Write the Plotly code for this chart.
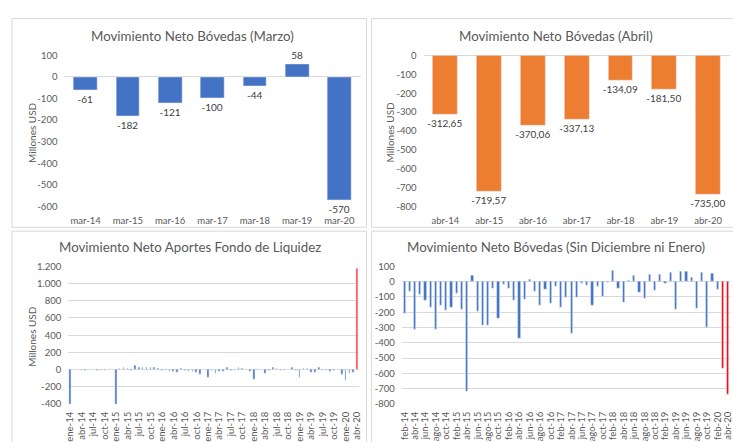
import plotly.graph_objects as go

# ---------------- data ----------------
marzo_cat = ["mar-14", "mar-15", "mar-16", "mar-17", "mar-18", "mar-19", "mar-20"]
marzo_val = [-61, -182, -121, -100, -44, 58, -570]

abril_cat = ["abr-14", "abr-15", "abr-16", "abr-17", "abr-18", "abr-19", "abr-20"]
abril_val = [-312.65, -719.57, -370.06, -337.13, -134.09, -181.50, -735.00]

meses = ["ene", "feb", "mar", "abr", "may", "jun", "jul", "ago", "sep", "oct", "nov", "dic"]
anios = ["14", "15", "16", "17", "18", "19", "20"]

# Fondo de Liquidez: ene-14 .. abr-20 (monthly)
fondo_cat = [f"{m}-{a}" for a in anios for m in meses][:76]
fondo_val = [
    -400, -3, 3, -5, -8, -3, 5, -5, -8, -6, -4, 5,          # 2014
    -400, 8, 25, 15, -5, 50, 25, 22, 25, 30, 25, 8,         # 2015
    -5, -5, -25, -25, -30, 15, -8, -20, -25, -30, -60, 5,   # 2016
    -95, -5, -40, -25, -20, 30, -5, -5, 25, 8, 5, -20,      # 2017
    -110, -15, 5, -50, -5, 30, 8, -5, -5, -3, 25, -10,      # 2018
    -95, 10, 8, -35, -35, 20, -5, -5, -20, -10, 5, -60,     # 2019
    -125, -50, -30, 1180,                                   # 2020
]

# Bóvedas sin diciembre ni enero: feb-14 .. abr-20
sin_cat = [f"{m}-{a}" for a in anios[:-1] for m in meses[1:11]] + ["feb-20", "mar-20", "abr-20"]
sin_val = [
    -205, -61, -313, -80, -123, -171, -309, -158, -190, -165,   # 2014
    -74, -182, -720, 40, -195, -288, -288, -47, -241, -17,      # 2015
    -47, -121, -370, -117, 15, -65, -157, -51, -144, -32,       # 2016
    -167, -100, -337, -100, -10, -22, -157, -33, -98, -5,       # 2017
    72, -44, -134, 8, 44, -72, -112, 48, -55, 50,               # 2018
    -8, 58, -182, 68, 68, 25, -172, 62, -300, 57,               # 2019
    -48, -570, -735,                                            # 2020
]

yt_marzo = [100, 0, -100, -200, -300, -400, -500, -600]
yt_abril = [0, -100, -200, -300, -400, -500, -600, -700, -800]
yt_fondo = [1200, 1000, 800, 600, 400, 200, 0, -200, -400]
yt_sin = [100, 0, -100, -200, -300, -400, -500, -600, -700, -800]

# ---------------- helpers ----------------
W, H = 733, 442
FONT = "Lato"
GRAY = "#595959"
GRID = "#D9D9D9"
BLUE = "#4472C4"
ORANGE = "#ED7D31"


def px(x):
    return x / W


def py(y):
    return 1 - y / H


def fmt_thousands(v):
    s = f"{abs(v):,}".replace(",", ".")
    return ("-" if v < 0 else "") + s


def fmt_dec(v):
    return f"{v:.2f}".replace(".", ",")


fig = go.Figure()

label_font = dict(family=FONT, size=10, color="#404040")

fig.add_trace(go.Bar(
    x=marzo_cat, y=marzo_val, xaxis="x", yaxis="y",
    marker=dict(color=BLUE), width=0.56,
    text=[str(v) for v in marzo_val], textposition="outside",
    constraintext="none", cliponaxis=False, textfont=label_font,
    hoverinfo="skip",
))
fig.add_trace(go.Bar(
    x=abril_cat, y=abril_val, xaxis="x2", yaxis="y2",
    marker=dict(color=ORANGE), width=0.57,
    text=[fmt_dec(v) for v in abril_val], textposition="outside",
    constraintext="none", cliponaxis=False, textfont=label_font,
    hoverinfo="skip",
))
fondo_colors = [BLUE] * (len(fondo_val) - 1) + ["#FF4545"]
fig.add_trace(go.Bar(
    x=fondo_cat, y=fondo_val, xaxis="x3", yaxis="y3",
    marker=dict(color=fondo_colors), width=0.42, hoverinfo="skip",
))
sin_colors = [BLUE] * (len(sin_val) - 2) + ["#FF0000", "#FF0000"]
fig.add_trace(go.Bar(
    x=sin_cat, y=sin_val, xaxis="x4", yaxis="y4",
    marker=dict(color=sin_colors), width=0.42, hoverinfo="skip",
))

tick_font = dict(family=FONT, size=9.5, color=GRAY)

common_x = dict(type="category", showgrid=False, showline=False, zeroline=False,
                ticks="", tickfont=tick_font, fixedrange=True)
common_y = dict(showline=False, ticks="", tickfont=tick_font, fixedrange=True)

fig.update_layout(
    width=W, height=H,
    margin=dict(l=0, r=0, t=0, b=0),
    paper_bgcolor="white", plot_bgcolor="white",
    showlegend=False, bargap=0,
    font=dict(family=FONT, color=GRAY),
    xaxis=dict(common_x, domain=[px(61), px(360)], anchor="y", range=[-0.5, 6.5],
               ticklabelstandoff=7),
    yaxis=dict(common_y, domain=[py(206.7), py(50.7)], anchor="x", range=[-600, 100],
               tickvals=yt_marzo, ticktext=[fmt_thousands(v) for v in yt_marzo],
               showgrid=False, zeroline=True, zerolinecolor=GRID, zerolinewidth=1,
               ticklabelstandoff=6),
    xaxis2=dict(common_x, domain=[px(423.6), 1.0], anchor="y2", range=[-0.5, 6.5],
                ticklabelstandoff=7),
    yaxis2=dict(common_y, domain=[py(206.7), py(51)], anchor="x2", range=[-800, 0],
                tickvals=yt_abril, ticktext=[fmt_thousands(v) for v in yt_abril],
                showgrid=False, zeroline=True, zerolinecolor=GRID, zerolinewidth=1,
                ticklabelstandoff=6),
    xaxis3=dict(common_x, domain=[px(64.8), px(358.6)], anchor="y3", range=[-0.5, 75.5],
                tickvals=fondo_cat[::3], ticktext=fondo_cat[::3], tickangle=-90,
                ticklabelstandoff=5),
    yaxis3=dict(common_y, domain=[py(410), py(268.3)], anchor="x3", range=[-400, 1200],
                tickvals=yt_fondo, ticktext=[fmt_thousands(v) for v in yt_fondo],
                showgrid=True, gridcolor=GRID, gridwidth=1, zeroline=False,
                ticklabelstandoff=6),
    xaxis4=dict(common_x, domain=[px(401.7), 1.0], anchor="y4", range=[-0.5, 62.38],
                tickvals=sin_cat[::2], ticktext=sin_cat[::2], tickangle=-90,
                ticklabelstandoff=5),
    yaxis4=dict(common_y, domain=[py(410), py(268.3)], anchor="x4", range=[-800, 100],
                tickvals=yt_sin, ticktext=[fmt_thousands(v) for v in yt_sin],
                showgrid=True, gridcolor=GRID, gridwidth=1, zeroline=False,
                ticklabelstandoff=6),
)

# panel borders
panels = [(8, 13, 366, 228), (371, 13, 740, 228), (8, 232, 366, 450), (371, 232, 740, 450)]
for x0, y0, x1, y1 in panels:
    fig.add_shape(type="rect", xref="paper", yref="paper",
                  x0=px(x0), x1=px(x1), y0=py(y1), y1=py(y0),
                  line=dict(color=GRID, width=1), fillcolor="rgba(0,0,0,0)", layer="below")

title_font = dict(family=FONT, size=13.3, color=GRAY)
titles = [
    ("Movimiento Neto Bóvedas (Marzo)", 190, 30.7),
    ("Movimiento Neto Bóvedas (Abril)", 557.7, 30.7),
    ("Movimiento Neto Aportes Fondo de Liquidez", 188, 248.3),
    ("Movimiento Neto Bóvedas (Sin Diciembre ni Enero)", 557.7, 248.3),
]
for t, x, y in titles:
    fig.add_annotation(text=t, x=px(x), y=py(y), xref="paper", yref="paper",
                       showarrow=False, font=title_font, xanchor="center", yanchor="middle")

ytitle_font = dict(family=FONT, size=10, color=GRAY)
for x, y in [(28, 130), (390, 130), (28, 340)]:
    fig.add_annotation(text="Millones USD", x=px(x), y=py(y), xref="paper", yref="paper",
                       showarrow=False, font=ytitle_font, textangle=-90,
                       xanchor="center", yanchor="middle")

fig.write_html(
    "out.html",
    config={"displayModeBar": False},
    post_script="document.body.style.margin='0px';document.body.style.overflow='hidden';",
)
